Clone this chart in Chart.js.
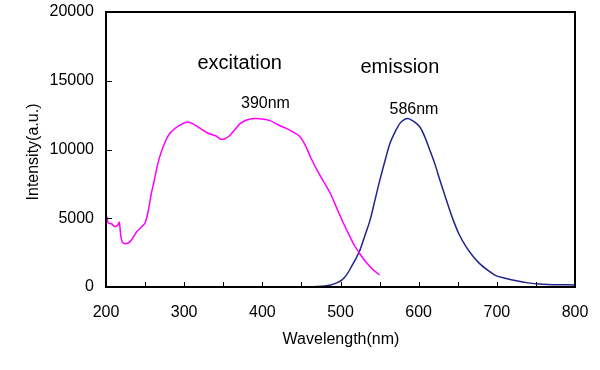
<!DOCTYPE html>
<html>
<head>
<meta charset="utf-8">
<script src="https://cdn.jsdelivr.net/npm/chart.js@4"></script>
<style>
  body { margin: 0; background: #fff; }
  #wrap { width: 600px; height: 370px; }
</style>
</head>
<body>
<div id="wrap"><canvas id="grafico"></canvas></div>
<script>
// excitation spectrum (nm / intensity)
const excWave = [200, 201, 203, 207, 211, 215, 217, 219, 221, 225, 231, 239, 246, 250, 254, 258, 262, 266, 270, 276, 282, 290, 297, 304, 312, 320, 330, 340, 347, 352, 358, 365, 372, 380, 390, 400, 410, 420, 430, 440, 448, 455, 462, 470, 478, 487, 494, 502, 510, 518, 525, 532, 540, 550];
const excInt = [4300, 5100, 4650, 4600, 4400, 4500, 4700, 3700, 3250, 3150, 3300, 4000, 4400, 4650, 5500, 6800, 7800, 8900, 9700, 10600, 11200, 11600, 11850, 12000, 11850, 11550, 11200, 11000, 10750, 10780, 11000, 11450, 11900, 12150, 12250, 12220, 12100, 11800, 11550, 11250, 10950, 10300, 9400, 8500, 7700, 6800, 5900, 4850, 3900, 3000, 2400, 1850, 1350, 870];

// emission spectrum
const emWave = [450, 470, 487, 495, 502, 508, 514, 520, 525, 531, 538, 544, 550, 557, 563, 570, 576, 581, 586, 592, 597, 602, 608, 614, 621, 627, 635, 644, 652, 661, 670, 678, 690, 698, 712, 725, 740, 755, 772, 800];
const emInt = [0, 30, 150, 300, 520, 900, 1480, 2100, 2700, 3700, 4900, 6300, 7700, 9200, 10400, 11300, 11900, 12150, 12250, 12100, 11900, 11600, 10900, 10000, 8900, 7800, 6400, 4900, 3800, 2900, 2200, 1700, 1150, 850, 620, 450, 300, 210, 170, 150];

const xTicks = [200, 300, 400, 500, 600, 700, 800];
const yTicks = [0, 5000, 10000, 15000, 20000];

// text labels placed in data coordinates
const notes = [
  { text: 'excitation', x: 371, y: 16250, size: 20 },
  { text: 'emission', x: 576, y: 16000, size: 20 },
  { text: '390nm', x: 404, y: 13350, size: 16 },
  { text: '586nm', x: 594, y: 12900, size: 16 }
];

const fontName = '"Liberation Sans", Arial, sans-serif';

const framePlugin = {
  id: 'frame',
  afterDraw(chart) {
    const ctx = chart.ctx;
    const a = chart.chartArea;
    const xs = chart.scales.x, ys = chart.scales.y;
    ctx.save();
    ctx.strokeStyle = '#000';
    ctx.lineWidth = 2;
    ctx.strokeRect(a.left, a.top, a.right - a.left, a.bottom - a.top);
    ctx.lineWidth = 1;
    ctx.beginPath();
    for (let v = 250; v < 800; v += 50) {
      const px = Math.round(xs.getPixelForValue(v)) + 0.5;
      ctx.moveTo(px, a.bottom);
      ctx.lineTo(px, a.bottom - 5);
    }
    for (let v = 5000; v < 20000; v += 5000) {
      const py = Math.round(ys.getPixelForValue(v)) + 0.5;
      ctx.moveTo(a.left, py);
      ctx.lineTo(a.left + 6, py);
    }
    ctx.stroke();

    ctx.fillStyle = '#000';
    ctx.textAlign = 'center';
    ctx.textBaseline = 'middle';
    notes.forEach(n => {
      ctx.font = n.size + 'px ' + fontName;
      ctx.fillText(n.text, xs.getPixelForValue(n.x), ys.getPixelForValue(n.y));
    });

    ctx.font = '16px ' + fontName;
    ctx.fillText('Wavelength(nm)', 341, 340);
    ctx.translate(34, 152);
    ctx.rotate(-Math.PI / 2);
    ctx.fillText('Intensity(a.u.)', 0, 0);
    ctx.restore();
  }
};

const toPts = (xs, ys) => xs.map((x, i) => ({ x: x, y: ys[i] }));

new Chart(document.getElementById('grafico'), {
  type: 'line',
  data: {
    datasets: [
      {
        label: 'excitation',
        data: toPts(excWave, excInt),
        borderColor: '#FF00FF',
        borderWidth: 1.5,
        pointRadius: 0,
        tension: 0.3
      },
      {
        label: 'emission',
        data: toPts(emWave, emInt),
        borderColor: '#23238C',
        borderWidth: 1.5,
        pointRadius: 0,
        cubicInterpolationMode: 'monotone'
      }
    ]
  },
  options: {
    responsive: true,
    maintainAspectRatio: false,
    animation: false,
    layout: { padding: { top: 12, right: 25, left: 0, bottom: 0 } },
    plugins: {
      legend: { display: false },
      tooltip: { enabled: false }
    },
    scales: {
      x: {
        type: 'linear',
        min: 200,
        max: 800,
        afterBuildTicks: s => { s.ticks = xTicks.map(v => ({ value: v })); },
        afterFit: s => { s.height = 83; s.paddingLeft = 0; s.paddingRight = 0; },
        grid: { display: false, drawTicks: false },
        border: { display: false },
        ticks: { color: '#000', font: { size: 16, family: fontName }, padding: 16, maxRotation: 0 }
      },
      y: {
        min: 0,
        max: 20000,
        afterBuildTicks: s => { s.ticks = yTicks.map(v => ({ value: v })); },
        afterFit: s => { s.width = 106; s.paddingTop = 0; s.paddingBottom = 0; },
        grid: { display: false, drawTicks: false },
        border: { display: false },
        ticks: { color: '#000', font: { size: 16, family: fontName }, padding: 12, callback: v => String(v) }
      }
    }
  },
  plugins: [framePlugin]
});
</script>
</body>
</html>
